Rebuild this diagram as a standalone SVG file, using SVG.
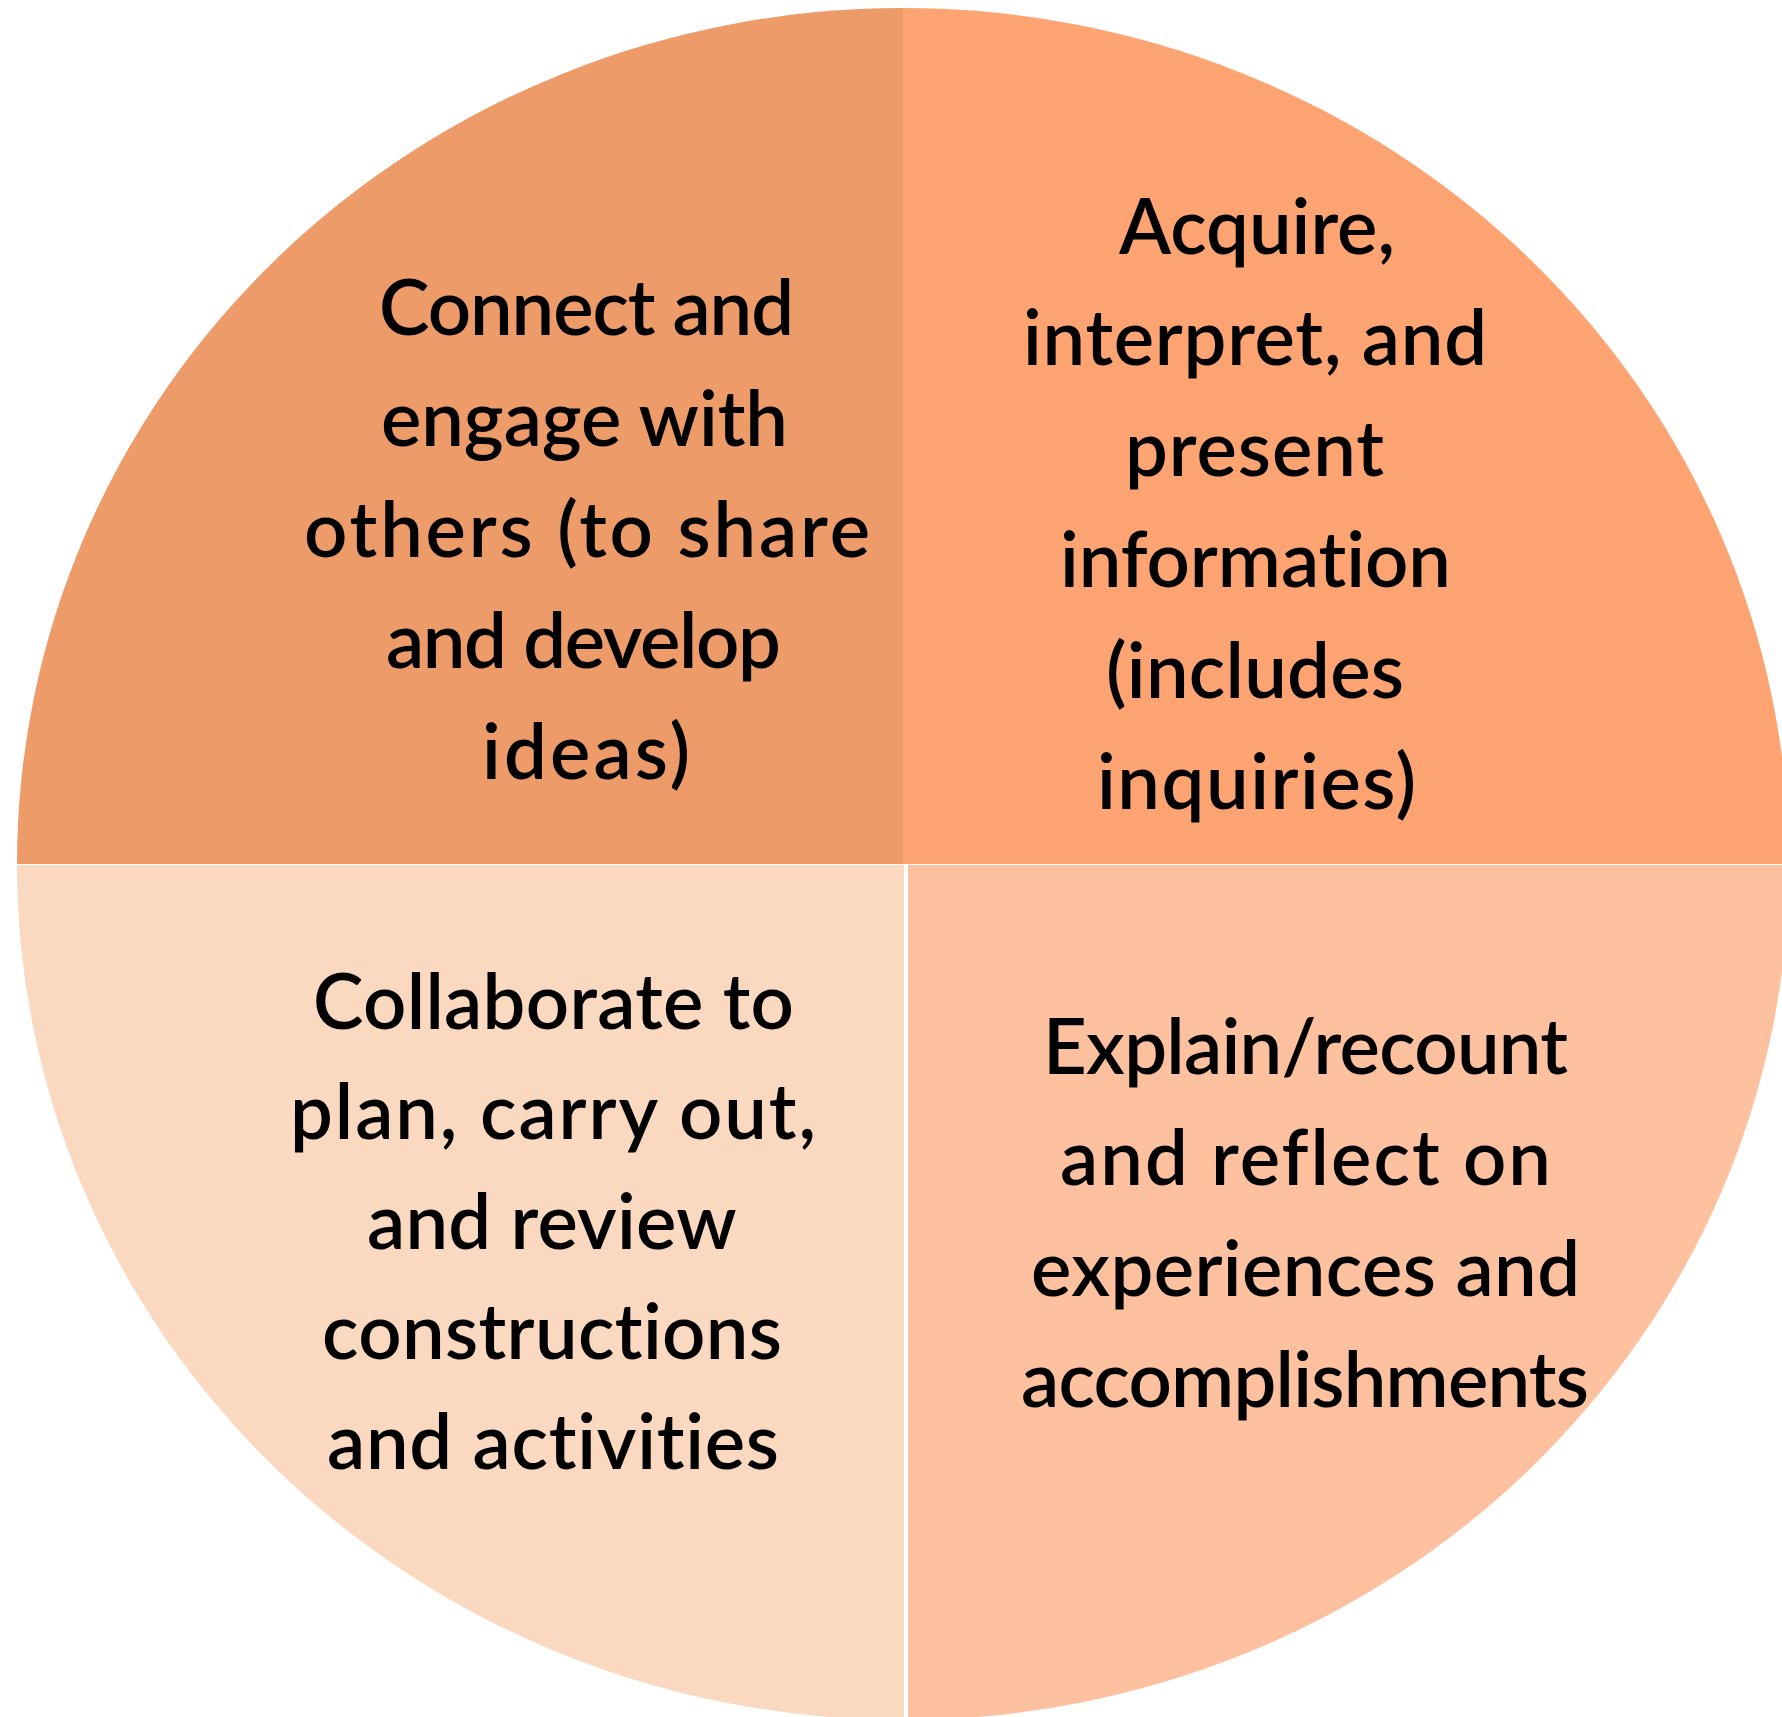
<svg xmlns="http://www.w3.org/2000/svg" width="1782" height="1717" viewBox="0 0 1782 1717">
  <style>
    .lbl { font-family: Lato, "Open Sans", "DejaVu Sans", sans-serif; font-size: 76px; font-weight: 600; fill: #000; font-variant-ligatures: none; }
  </style>
  <rect width="1782" height="1717" fill="#ffffff"/>

  <!-- top-left quarter -->
  <g id="q-connect">
    <path d="M903,864 L17,864 A886,856 0 0 1 903,8 Z" fill="#ee9b6a"/>
    <text class="lbl">
      <tspan x="379" y="335" textLength="415" lengthAdjust="spacing">Connect and</tspan>
      <tspan x="381" y="446" textLength="407" lengthAdjust="spacing">engage with</tspan>
      <tspan x="304" y="557" textLength="566" lengthAdjust="spacing">others (to share</tspan>
      <tspan x="386" y="668" textLength="395" lengthAdjust="spacing">and develop</tspan>
      <tspan x="482" y="779" textLength="208" lengthAdjust="spacing">ideas)</tspan>
    </text>
  </g>

  <!-- top-right quarter -->
  <g id="q-acquire">
    <path d="M903,864 L903,8 A886,856 0 0 1 1789,864 Z" fill="#fea472"/>
    <text class="lbl">
      <tspan x="1119" y="254" textLength="276" lengthAdjust="spacing">Acquire,</tspan>
      <tspan x="1023" y="365" textLength="464" lengthAdjust="spacing">interpret, and</tspan>
      <tspan x="1125" y="476" textLength="259" lengthAdjust="spacing">present</tspan>
      <tspan x="1060" y="587" textLength="391" lengthAdjust="spacing">information</tspan>
      <tspan x="1106" y="698" textLength="298" lengthAdjust="spacing">(includes</tspan>
      <tspan x="1097" y="809" textLength="319" lengthAdjust="spacing">inquiries)</tspan>
    </text>
  </g>

  <!-- bottom-left quarter -->
  <g id="q-collaborate">
    <path d="M904,865 L904,1720 A886,856 0 0 1 17,865 Z" fill="#fbd8c0"/>
    <text class="lbl">
      <tspan x="313" y="1029" textLength="481" lengthAdjust="spacing">Collaborate to</tspan>
      <tspan x="290" y="1139" textLength="526" lengthAdjust="spacing">plan, carry out,</tspan>
      <tspan x="367" y="1249" textLength="368" lengthAdjust="spacing">and review</tspan>
      <tspan x="322" y="1359" textLength="460" lengthAdjust="spacing">constructions</tspan>
      <tspan x="327" y="1469" textLength="452" lengthAdjust="spacing">and activities</tspan>
    </text>
  </g>

  <!-- bottom-right quarter -->
  <g id="q-explain">
    <path d="M908,865 L1789,865 A886,856 0 0 1 908,1720 Z" fill="#fec19f"/>
    <text class="lbl">
      <tspan x="1043" y="1074" textLength="525" lengthAdjust="spacing">Explain/recount</tspan>
      <tspan x="1060" y="1185" textLength="491" lengthAdjust="spacing">and reflect on</tspan>
      <tspan x="1031" y="1296" textLength="549" lengthAdjust="spacing">experiences and</tspan>
      <tspan x="1021" y="1407" textLength="568" lengthAdjust="spacing">accomplishments</tspan>
    </text>
  </g>

  <g id="connectors"/>
</svg>
